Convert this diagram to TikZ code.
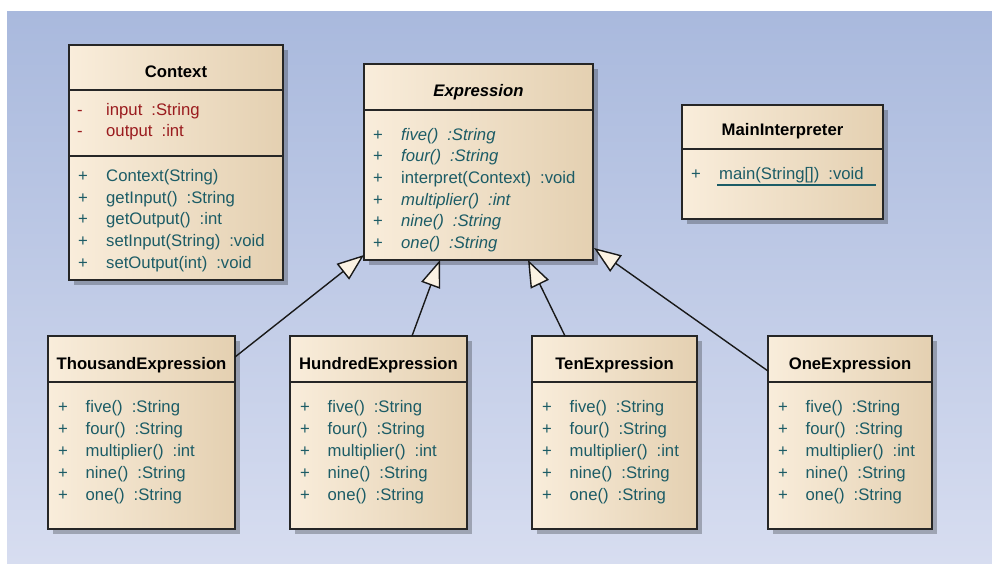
\documentclass[tikz,border=0pt]{standalone}
\usepackage{fontspec}
\setmainfont{Liberation Sans}
\usetikzlibrary{arrows.meta,calc,shadows}

\definecolor{bgtop}{HTML}{A9B9DD}
\definecolor{bgbot}{HTML}{D7DDF0}
\definecolor{boxl}{HTML}{F9EDDB}
\definecolor{boxm}{HTML}{FDF5E9}
\definecolor{boxr}{HTML}{E4D0B1}
\definecolor{tipfill}{HTML}{FBF2E3}
\definecolor{attrcol}{HTML}{9A1B1E}
\definecolor{opcol}{HTML}{1C5C66}

\newcommand\memfont{\fontsize{16.7}{18}\selectfont}
\newcommand\typegap{\hspace{9pt}}

\begin{document}
\begin{tikzpicture}[x=1pt,y=-1pt,
  classbox/.style={draw=black!85, line width=1.6pt, inner sep=0pt, outer sep=0pt,
    anchor=north west, left color=boxl, middle color=boxm, right color=boxr,
    drop shadow={shadow xshift=5pt, shadow yshift=-5pt, fill=black, opacity=0.25}},
  sepline/.style={draw=black!85, line width=1.5pt},
  title/.style={anchor=base, inner sep=0pt, font=\memfont\bfseries},
  member/.style={anchor=base west, inner sep=0pt, font=\memfont},
  attr/.style={member, text=attrcol},
  oper/.style={member, text=opcol},
  inherit/.style={line width=1.4pt, draw=black!90,
    -{Triangle[length=27pt, width=20pt, fill=tipfill, line width=1.4pt]}}
]
\useasboundingbox (0,0) rectangle (992,563);
% canvas
\fill[white] (0,0) rectangle (992,563);
\shade[top color=bgtop, bottom color=bgbot] (7,11) rectangle (992,563);

% ---------- Context ----------
\node[classbox, minimum width=214pt, minimum height=235pt] (context) at (69,45) {};
\draw[sepline] ($(context.north west)+(0,45)$) -- ($(context.north east)+(0,45)$);
\draw[sepline] ($(context.north west)+(0,111)$) -- ($(context.north east)+(0,111)$);
\node[title] (context-t) at ($(context.north)+(0,32)$) {Context};
\node[attr] (context-v1) at (77,115) {-};
\node[attr] (context-a1) at (106,115) {input\typegap:String};
\node[attr] (context-v2) at (77,136.7) {-};
\node[attr] (context-a2) at (106,136.7) {output\typegap:int};
\foreach \i/\txt in {0/{Context(String)}, 1/{getInput()\typegap:String},
    2/{getOutput()\typegap:int}, 3/{setInput(String)\typegap:void},
    4/{setOutput(int)\typegap:void}} {
  \node[oper] (context-p\i) at (78,{181.5+21.7*\i}) {+};
  \node[oper] (context-m\i) at (106,{181.5+21.7*\i}) {\txt};
}

% ---------- Expression (abstract) ----------
\node[classbox, minimum width=229pt, minimum height=196pt] (expr) at (364,64) {};
\draw[sepline] ($(expr.north west)+(0,46)$) -- ($(expr.north east)+(0,46)$);
\node[title, font=\memfont\bfseries\itshape] (expr-t) at ($(expr.north)+(0,32)$) {Expression};
\foreach \i/\txt in {0/{\itshape five()\typegap:String}, 1/{\itshape four()\typegap:String},
    2/{interpret(Context)\typegap:void}, 3/{\itshape multiplier()\typegap:int},
    4/{\itshape nine()\typegap:String}, 5/{\itshape one()\typegap:String}} {
  \node[oper] (expr-p\i) at (373,{140+21.7*\i}) {+};
  \node[oper] (expr-m\i) at (401,{140+21.7*\i}) {\txt};
}

% ---------- MainInterpreter ----------
\node[classbox, minimum width=201pt, minimum height=114pt] (main) at (682,105) {};
\draw[sepline] ($(main.north west)+(0,44)$) -- ($(main.north east)+(0,44)$);
\node[title] (main-t) at ($(main.north)+(0,30)$) {MainInterpreter};
\node[oper] (main-p0) at (691,179.3) {+};
\node[oper] (main-m0) at (719,179.3) {main(String[])\typegap:void};
\draw[opcol, line width=1.3pt] ($(main.north west)+(35,80)$) -- ($(main.north west)+(194,80)$);

% ---------- concrete expressions ----------
\foreach \cls/\bx/\bw/\name in {thousand/48/187/ThousandExpression,
    hundred/290/177/HundredExpression, ten/532/165/TenExpression,
    one/768/164/OneExpression} {
  \node[classbox, minimum width=\bw pt, minimum height=193pt] (\cls) at (\bx,336) {};
  \draw[sepline] ($(\cls.north west)+(0,46)$) -- ($(\cls.north east)+(0,46)$);
  \node[title] (\cls-t) at ($(\cls.north)+(0,33.3)$) {\name};
  \foreach \i/\txt in {0/{five()\typegap:String}, 1/{four()\typegap:String},
      2/{multiplier()\typegap:int}, 3/{nine()\typegap:String},
      4/{one()\typegap:String}} {
    \node[oper] (\cls-p\i) at ({\bx+10},{412.7+22*\i}) {+};
    \node[oper] (\cls-m\i) at ({\bx+37.5},{412.7+22*\i}) {\txt};
  }
}

% ---------- generalizations ----------
\draw[inherit] ($(thousand.north east)+(0,21)$) -- ($(expr.south west)+(0,-5)$);
\draw[inherit] ($(hundred.north west)+(122,0)$) -- ($(expr.south west)+(76,0)$);
\draw[inherit] ($(ten.north west)+(33,0)$) -- ($(expr.south west)+(164,0)$);
\draw[inherit] ($(one.north west)+(0,35)$) -- ($(expr.south east)+(1,-12)$);
\end{tikzpicture}
\end{document}
